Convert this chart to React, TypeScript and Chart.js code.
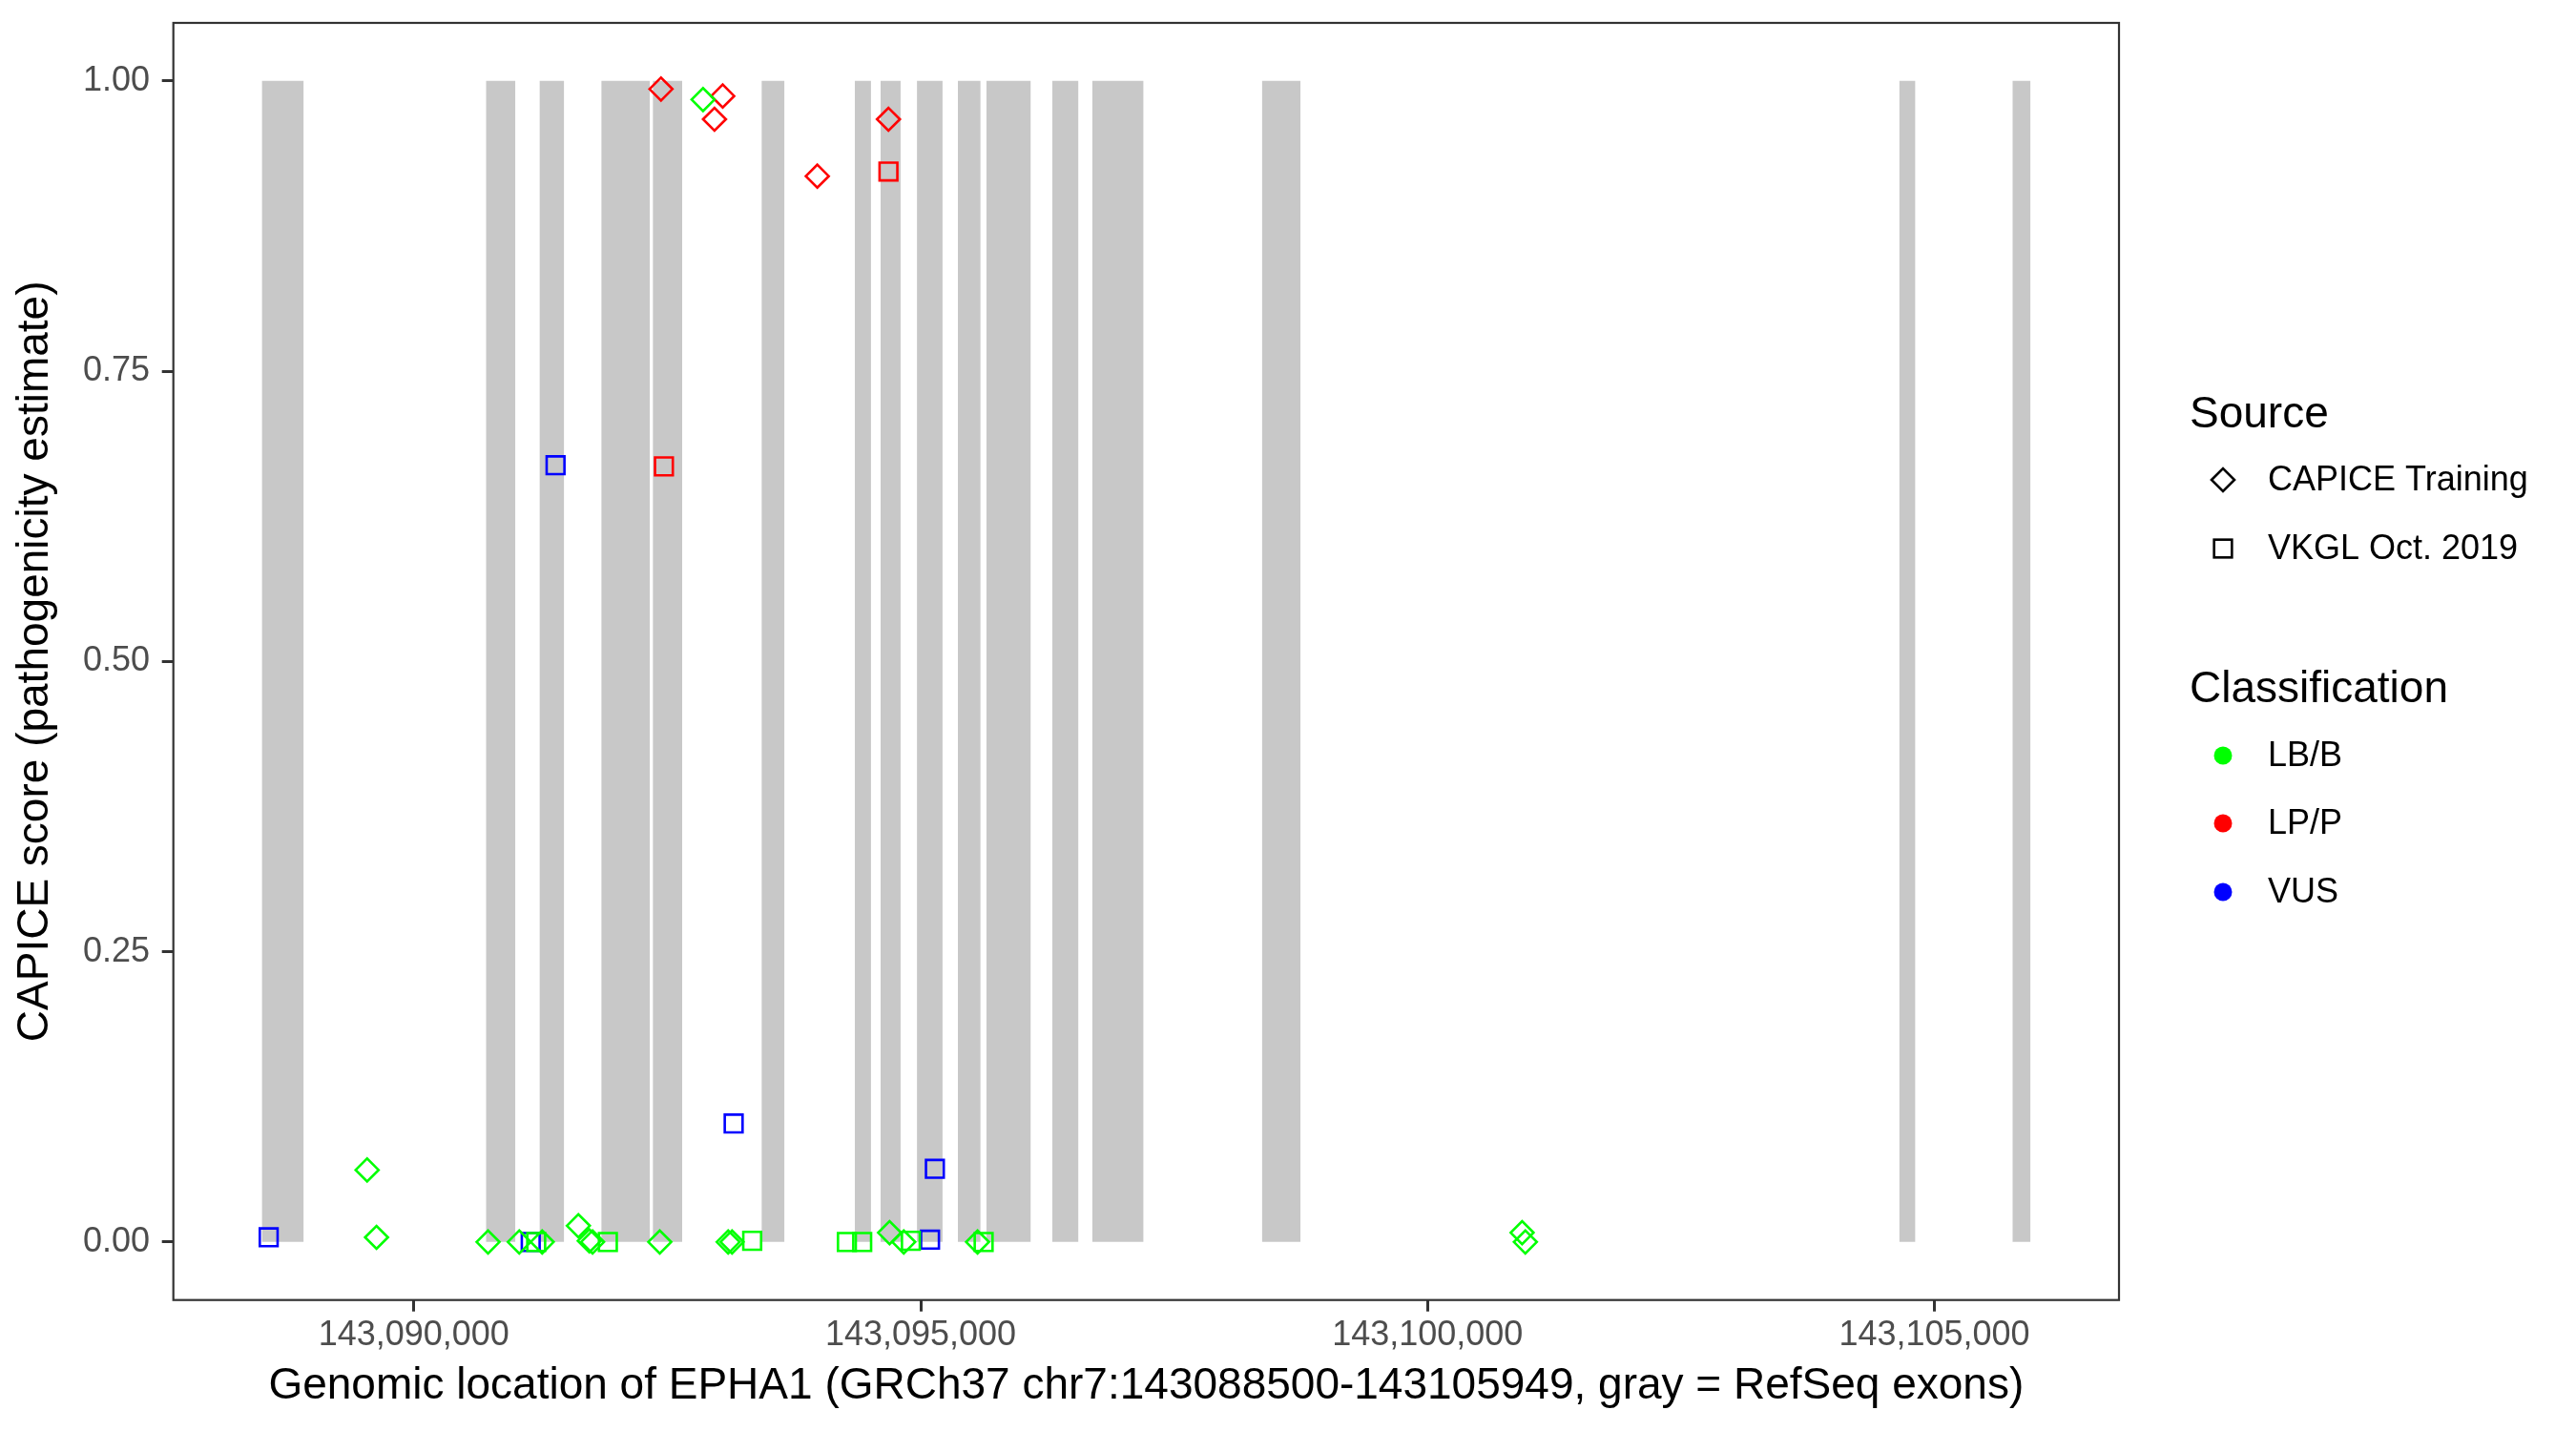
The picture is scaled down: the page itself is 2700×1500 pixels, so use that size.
import React, { useEffect, useRef } from 'react';
import { Chart, registerables } from 'chart.js';

Chart.register(...registerables);

// ---------- data ----------
const dataRange = [143088500, 143105949];

const exonStarts = [143088500, 143090711, 143091239, 143091849, 143092357, 143093430, 143094349, 143094604, 143094963, 143095366, 143095647, 143096297, 143096692, 143098366, 143104653, 143105770];
const exonEnds = [143088914, 143091002, 143091483, 143092330, 143092648, 143093657, 143094510, 143094802, 143095216, 143095591, 143096087, 143096557, 143097199, 143098748, 143104813, 143105949];

// CAPICE Training (diamonds)
const capiceLbPos = [143089539, 143089632, 143090732, 143091040, 143091266, 143091623, 143091731, 143091763, 143092426, 143092853, 143093101, 143093139, 143094693, 143094833, 143095561, 143100933, 143100965];
const capiceLbScore = [0.062, 0.004, 0.0, 0.0, 0.0, 0.014, 0.001, 0.0, 0.0, 0.984, 0.0, 0.0, 0.008, 0.0, 0.0, 0.008, 0.0];
const capiceLpPos = [143092438, 143092966, 143093047, 143093980, 143094682];
const capiceLpScore = [0.993, 0.967, 0.987, 0.918, 0.967];

// VKGL Oct. 2019 (squares)
const vkglLbPos = [143091207, 143091914, 143093338, 143094272, 143094423, 143094903, 143095621];
const vkglLbScore = [0.0, 0.0, 0.001, 0.0, 0.0, 0.001, 0.0];
const vkglLpPos = [143092467, 143094682];
const vkglLpScore = [0.668, 0.922];
const vkglVusPos = [143088568, 143091153, 143091398, 143093155, 143095092, 143095140];
const vkglVusScore = [0.004, 0.0, 0.669, 0.102, 0.002, 0.063];

const xTickValues = [143090000, 143095000, 143100000, 143105000];
const xTickLabels = ['143,090,000', '143,095,000', '143,100,000', '143,105,000'];
const yTickValues = [0, 0.25, 0.5, 0.75, 1.0];
const yTickLabels = ['0.00', '0.25', '0.50', '0.75', '1.00'];

const sourceNames = ['CAPICE Training', 'VKGL Oct. 2019'];
const classNames = ['LB/B', 'LP/P', 'VUS'];

const xTitle = 'Genomic location of EPHA1 (GRCh37 chr7:143088500-143105949, gray = RefSeq exons)';
const yTitle = 'CAPICE score (pathogenicity estimate)';

// ---------- styles ----------
const FONT = '"Liberation Sans", Arial, Helvetica, sans-serif';
const GREEN = '#00FF00';
const RED = '#FF0000';
const BLUE = '#0000FF';
const classColors = [GREEN, RED, BLUE];
const EXON = '#C8C8C8';
const DIAMOND_R = 12;
const SQUARE_R = 13.2;
const STROKE = 2.6;

const expand = (dataRange[1] - dataRange[0]) * 0.05;
const X_MIN = dataRange[0] - expand;
const X_MAX = dataRange[1] + expand;

function pts(pos: number[], score: number[]) {
  return pos.map((x, i) => ({ x, y: score[i] }));
}

function pointSet(label: string, pos: number[], score: number[], color: string, style: string, radius: number) {
  return {
    type: 'scatter',
    label,
    data: pts(pos, score),
    pointStyle: style,
    pointRadius: radius,
    pointHoverRadius: radius,
    pointBorderColor: color,
    pointBackgroundColor: 'rgba(0,0,0,0)',
    pointBorderWidth: STROKE,
    pointHoverBorderWidth: STROKE,
    showLine: false,
    order: 0,
  };
}

const borderPlugin = {
  id: 'panelBorder',
  afterDatasetsDraw(chart: any) {
    const { ctx, chartArea } = chart;
    ctx.save();
    ctx.strokeStyle = '#333333';
    ctx.lineWidth = 2.2;
    ctx.strokeRect(chartArea.left, chartArea.top, chartArea.right - chartArea.left, chartArea.bottom - chartArea.top);
    ctx.restore();
  },
};

const legendPlugin = {
  id: 'ggLegend',
  afterDraw(chart: any) {
    const ctx = chart.ctx as CanvasRenderingContext2D;
    const titleX = 2295;
    const keyX = 2330;
    const textX = 2377;
    ctx.save();
    ctx.textAlign = 'left';
    ctx.textBaseline = 'middle';
    ctx.fillStyle = '#000000';
    ctx.font = `46px ${FONT}`;
    ctx.fillText('Source', titleX, 435);
    ctx.fillText('Classification', titleX, 723);

    ctx.font = `36px ${FONT}`;
    const srcY = [503, 575];
    ctx.strokeStyle = '#000000';
    ctx.lineWidth = STROKE;
    ctx.beginPath();
    ctx.moveTo(keyX - DIAMOND_R, srcY[0]);
    ctx.lineTo(keyX, srcY[0] - DIAMOND_R);
    ctx.lineTo(keyX + DIAMOND_R, srcY[0]);
    ctx.lineTo(keyX, srcY[0] + DIAMOND_R);
    ctx.closePath();
    ctx.stroke();
    const h = SQUARE_R * Math.SQRT1_2;
    ctx.strokeRect(keyX - h, srcY[1] - h, 2 * h, 2 * h);
    sourceNames.forEach((n, i) => ctx.fillText(n, textX, srcY[i] + 1));

    const clsY = [792, 863, 935];
    classNames.forEach((n, i) => {
      ctx.fillStyle = classColors[i];
      ctx.beginPath();
      ctx.arc(keyX, clsY[i], 9.5, 0, Math.PI * 2);
      ctx.fill();
      ctx.fillStyle = '#000000';
      ctx.fillText(n, textX, clsY[i] + 1);
    });
    ctx.restore();
  },
};

export default function App() {
  const ref = useRef<HTMLCanvasElement>(null);

  useEffect(() => {
    document.body.style.margin = '0';
    const exonDatasets = exonStarts.map((s, i) => ({
      type: 'line',
      label: 'exon' + i,
      data: [{ x: s, y: 1 }, { x: exonEnds[i], y: 1 }],
      showLine: true,
      fill: 'origin',
      backgroundColor: EXON,
      borderColor: 'rgba(0,0,0,0)',
      borderWidth: 0,
      pointRadius: 0,
      pointHoverRadius: 0,
      order: 10,
    }));

    const datasets: any[] = [
      pointSet('CAPICE LB/B', capiceLbPos, capiceLbScore, GREEN, 'rectRot', DIAMOND_R),
      pointSet('CAPICE LP/P', capiceLpPos, capiceLpScore, RED, 'rectRot', DIAMOND_R),
      pointSet('VKGL LB/B', vkglLbPos, vkglLbScore, GREEN, 'rect', SQUARE_R),
      pointSet('VKGL LP/P', vkglLpPos, vkglLpScore, RED, 'rect', SQUARE_R),
      pointSet('VKGL VUS', vkglVusPos, vkglVusScore, BLUE, 'rect', SQUARE_R),
      ...exonDatasets,
    ];

    const chart = new Chart(ref.current as HTMLCanvasElement, {
      type: 'scatter',
      data: { datasets },
      options: {
        animation: false,
        responsive: false,
        devicePixelRatio: 1,
        events: [],
        layout: { autoPadding: false, padding: { left: 0, right: 479, top: 24, bottom: 0 } },
        plugins: { legend: { display: false }, tooltip: { enabled: false } },
        scales: {
          x: {
            type: 'linear',
            min: X_MIN,
            max: X_MAX,
            afterBuildTicks: (s: any) => { s.ticks = xTickValues.map((v) => ({ value: v })); },
            afterFit: (s: any) => { s.height = 137.3; s.paddingLeft = 0; s.paddingRight = 0; s.paddingTop = 0; s.paddingBottom = 0; },
            grid: { display: true, drawOnChartArea: false, drawTicks: true, tickLength: 12, tickColor: '#333333', tickWidth: 3, color: '#333333' },
            border: { display: false },
            ticks: {
              autoSkip: false,
              maxRotation: 0,
              minRotation: 0,
              padding: 4,
              color: '#4D4D4D',
              font: { family: FONT, size: 36, lineHeight: 1.2 },
              callback: (v: any) => xTickLabels[xTickValues.indexOf(Number(v))] ?? '',
            },
            title: { display: true, text: xTitle, color: '#000000', font: { family: FONT, size: 46, lineHeight: 1 }, padding: { top: 0, bottom: 24 } },
          },
          y: {
            type: 'linear',
            min: -0.05,
            max: 1.05,
            afterBuildTicks: (s: any) => { s.ticks = yTickValues.map((v) => ({ value: v })); },
            afterFit: (s: any) => { s.width = 181.7; s.paddingLeft = 0; s.paddingRight = 0; s.paddingTop = 0; s.paddingBottom = 0; },
            grid: { display: true, drawOnChartArea: false, drawTicks: true, tickLength: 12, tickColor: '#333333', tickWidth: 3, color: '#333333' },
            border: { display: false },
            ticks: {
              padding: 12.7,
              color: '#4D4D4D',
              font: { family: FONT, size: 36, lineHeight: 1.2 },
              callback: (v: any) => yTickLabels[yTickValues.indexOf(Number(v))] ?? '',
            },
            title: { display: true, text: yTitle, color: '#000000', font: { family: FONT, size: 46, lineHeight: 1 }, padding: { top: 14, bottom: 0 } },
          },
        },
      } as any,
      plugins: [borderPlugin, legendPlugin],
    } as any);
    return () => chart.destroy();
  }, []);

  return (
    <div style={{ position: 'absolute', left: 0, top: 0, width: 2700, height: 1500, background: '#ffffff' }}>
      <canvas ref={ref} width={2700} height={1500} style={{ width: 2700, height: 1500, display: 'block' }} />
    </div>
  );
}
